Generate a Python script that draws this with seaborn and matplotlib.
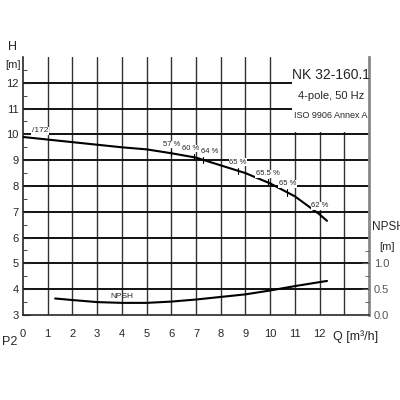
import matplotlib
matplotlib.use("Agg")
import matplotlib.pyplot as plt
import seaborn as sns
import numpy as np
from matplotlib.patches import Rectangle

sns.set_style("white")
plt.rcParams['font.family'] = ['Liberation Sans Narrow', 'Liberation Sans', 'DejaVu Sans']

q_h = [0, 1, 2, 3, 4, 5, 6, 7, 8, 9, 10, 11, 12, 12.3]
h = [9.9, 9.8, 9.7, 9.6, 9.5, 9.42, 9.27, 9.1, 8.8, 8.5, 8.1, 7.6, 6.9, 6.65]
eff_q = [6.0, 6.9, 7.3, 8.7, 9.9, 10.7, 12.0]
eff_labels = ["57 %", "60 %", "64 %", "65 %", "65.5 %", "65 %", "62 %"]
q_n = [1.3, 2, 3, 4, 5, 6, 7, 8, 9, 10, 11, 12.3]
npsh = [0.32, 0.29, 0.25, 0.235, 0.235, 0.26, 0.30, 0.35, 0.40, 0.475, 0.56, 0.66]

fig = plt.figure(figsize=(4, 4), dpi=100)
ax = fig.add_axes([23/400, 1-315/400, (369-23)/400, (315-57)/400])
ax.set_xlim(0, 14)
ax.set_ylim(3, 13)
for q in range(1, 14):
    ax.axvline(q, color='#333', lw=1.0, zorder=0)
for y in range(4, 13):
    ax.axhline(y, color='#111', lw=1.4, zorder=0)

sns.lineplot(x=q_h, y=h, ax=ax, color='black', lw=1.5, zorder=3)
eh = np.interp(eff_q, q_h, h)
offs = [0.0, -0.1, 0.25, 0.0, 0.0, 0.0, 0.0]
for q, y, lab, o in zip(eff_q, eh, eff_labels, offs):
    ax.plot([q, q], [y - 0.12, y + 0.12], color='black', lw=0.8, zorder=3)
    ax.text(q + o, y + 0.2, lab, fontsize=5.5, ha='center', va='bottom', zorder=4,
            bbox=dict(fc='white', ec='none', pad=0.3))
ax.text(0.35, 10.0, "/172", fontsize=6, va='bottom', zorder=4,
        bbox=dict(fc='white', ec='none', pad=0.5))

npsh_h = [3 + 2 * v for v in npsh]
sns.lineplot(x=q_n, y=npsh_h, ax=ax, color='black', lw=1.5, zorder=3)
ax.text(4.0, 3.57, "NPSH", fontsize=6, ha='center', va='bottom', zorder=4)

ax.add_patch(Rectangle((10.9, 10.1), 3.1, 2.9, fc='white', ec='none', zorder=2))
ax.text(12.45, 12.3, "NK 32-160.1", fontsize=10, ha='center', va='center', zorder=4)
ax.text(12.45, 11.5, "4-pole, 50 Hz", fontsize=8, ha='center', va='center', zorder=4)
ax.text(12.45, 10.75, "ISO 9906 Annex A", fontsize=6.5, ha='center', va='center', zorder=4)

ax.set_xticks(range(0, 13))
ax.set_xticks(np.arange(0.5, 14, 0.5), minor=True)
ax.set_yticks(range(3, 13))
ax.set_yticks(np.arange(3.5, 13, 0.5), minor=True)
ax.tick_params(axis='both', which='major', direction='in', length=5, labelsize=8, pad=3)
ax.tick_params(axis='both', which='minor', direction='in', length=3)
ax.tick_params(axis='x', pad=10)
for s in ax.spines.values():
    s.set_visible(False)
ax.spines['left'].set_visible(True)
ax.spines['bottom'].set_visible(True)
ax.spines['right'].set_visible(True)
ax.spines['right'].set_color('#888')
ax.spines['right'].set_linewidth(2)
ax.spines['left'].set_linewidth(1.2)
ax.spines['bottom'].set_linewidth(1.2)

ax2 = ax.twinx()
ax2.set_ylim(0.0, 5.0)
ax2.set_yticks([0.0, 0.5, 1.0])
ax2.set_yticklabels(["0.0", "0.5", "1.0"])
ax2.set_yticks([0.25, 0.75, 1.25], minor=True)
ax2.tick_params(axis='y', which='major', direction='in', length=5, labelsize=8, colors='#555')
ax2.tick_params(axis='y', which='minor', direction='in', length=3, colors='#555')
for s in ax2.spines.values():
    s.set_visible(False)

fig.text(8/400, 1-50/400, "H", fontsize=9)
fig.text(5/400, 1-68/400, "[m]", fontsize=8)
fig.text(372/400, 1-230/400, "NPSH", fontsize=8.5)
fig.text(379/400, 1-250/400, "[m]", fontsize=8)
fig.text(2/400, 1-345/400, "P2", fontsize=9)
fig.text(333/400, 1-340/400, "Q [m³/h]", fontsize=9)

fig.savefig("out.png", dpi=100)
